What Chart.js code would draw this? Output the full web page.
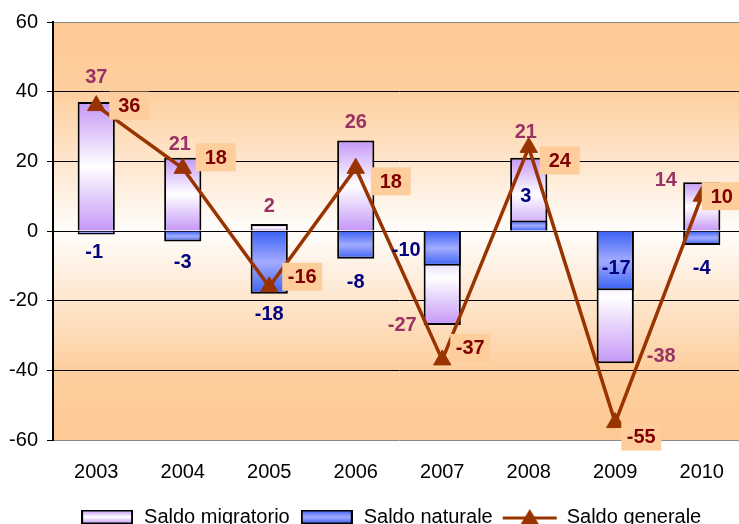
<!DOCTYPE html>
<html>
<head>
<meta charset="utf-8">
<script src="https://cdn.jsdelivr.net/npm/chart.js@4.4.1/dist/chart.umd.min.js"></script>
<style>
  html, body { margin: 0; padding: 0; background: #fff; overflow: hidden; }
  #saldo-chart { display: block; }
</style>
</head>
<body>
<canvas id="saldo-chart" width="745" height="537"></canvas>
<script>
const years = ['2003', '2004', '2005', '2006', '2007', '2008', '2009', '2010'];
const saldoMigratorio = [37, 21, 2, 26, -27, 21, -38, 14];
const saldoNaturale = [-1, -3, -18, -8, -10, 3, -17, -4];
const saldoGenerale = [36, 18, -16, 18, -37, 24, -55, 10];
const yTicks = [-60, -40, -20, 0, 20, 40, 60];

// label nudges (px) relative to bar end / point, as placed by hand in the original
const migratorioLabelOffsets = [[0, -26], [-3, -14], [0, -19], [0, -19], [-40, -1], [-3, -26], [46, -8], [-36, -3]];
const naturaleLabelOffsets = [[-2, 17], [0, 20], [0, 20], [0, 23], [-36, -16], [-3, -25], [1, -23], [0, 23]];
const generaleLabelOffsets = [[33, 0], [33, -11], [33, -10], [35, 13], [28, -12], [31, 13], [26, 14], [20, 0]];

const fontFamily = "'Liberation Sans', Arial, Helvetica, sans-serif";
const purpleStops = ['#c597f7', '#ffffff', '#c597f7'];
const blueStops = ['#3a62f4', '#a3abff', '#3a62f4'];
const lineBrown = '#993300';

function barGradient(stops) {
  return (context) => {
    const { chart, dataIndex, dataset } = context;
    const { ctx, chartArea, scales } = chart;
    if (!chartArea || !scales.y || dataIndex === undefined) {
      return stops[0];
    }
    const y1 = scales.y.getPixelForValue(dataset.data[dataIndex]);
    const y0 = scales.y.getPixelForValue(0);
    if (Math.abs(y1 - y0) < 1) return stops[0];
    const g = ctx.createLinearGradient(0, Math.min(y0, y1), 0, Math.max(y0, y1));
    g.addColorStop(0, stops[0]);
    g.addColorStop(0.5, stops[1]);
    g.addColorStop(1, stops[2]);
    return g;
  };
}

// legend swatches
function boxSwatch(stops) {
  const c = document.createElement('canvas');
  c.width = 52;
  c.height = 15;
  const x = c.getContext('2d');
  const g = x.createLinearGradient(0, 1, 0, 14);
  g.addColorStop(0, stops[0]);
  g.addColorStop(0.5, stops[1]);
  g.addColorStop(1, stops[2]);
  x.fillStyle = g;
  x.fillRect(1, 1, 50, 13);
  x.strokeStyle = '#000';
  x.lineWidth = 2;
  x.strokeRect(1, 1, 50, 13);
  return c;
}

function lineSwatch() {
  const c = document.createElement('canvas');
  c.width = 56;
  c.height = 18;
  const x = c.getContext('2d');
  x.strokeStyle = lineBrown;
  x.lineWidth = 3;
  x.beginPath();
  x.moveTo(1, 10);
  x.lineTo(55, 10);
  x.stroke();
  x.fillStyle = lineBrown;
  x.beginPath();
  x.moveTo(28, 1);
  x.lineTo(37, 16);
  x.lineTo(19, 16);
  x.closePath();
  x.fill();
  return c;
}

const swatches = [boxSwatch(purpleStops), boxSwatch(blueStops), lineSwatch()];

const plotBackground = {
  id: 'plotBackground',
  beforeDraw(chart) {
    const { ctx, chartArea } = chart;
    if (!chartArea) return;
    const g = ctx.createLinearGradient(0, chartArea.top, 0, chartArea.bottom);
    g.addColorStop(0, '#fdc994');
    g.addColorStop(0.17, '#fdcf9f');
    g.addColorStop(0.5, '#fffdfb');
    g.addColorStop(0.83, '#fdcf9f');
    g.addColorStop(1, '#fdc994');
    ctx.save();
    ctx.fillStyle = g;
    ctx.fillRect(chartArea.left, chartArea.top, chartArea.right - chartArea.left, chartArea.bottom - chartArea.top);
    ctx.restore();
  },
};

const valueLabels = {
  id: 'valueLabels',
  afterDatasetsDraw(chart) {
    const { ctx } = chart;
    chart.data.datasets.forEach((ds, di) => {
      const meta = chart.getDatasetMeta(di);
      meta.data.forEach((el, i) => {
        const off = ds.labelOffsets[i];
        const x = el.x + off[0];
        const y = el.y + off[1];
        ctx.save();
        ctx.font = `bold 20px ${fontFamily}`;
        ctx.textAlign = 'center';
        ctx.textBaseline = 'middle';
        if (ds.labelBox) {
          ctx.fillStyle = ds.labelBox;
          ctx.fillRect(x - 20, y - 14, 40, 28);
        }
        ctx.fillStyle = ds.labelColor;
        ctx.fillText(String(ds.data[i]), x, y + 1);
        ctx.restore();
      });
    });
  },
};

const data = {
  labels: years,
  datasets: [
    {
      type: 'line',
      label: 'Saldo generale',
      data: saldoGenerale,
      borderColor: lineBrown,
      backgroundColor: lineBrown,
      borderWidth: 3.5,
      pointStyle: 'triangle',
      pointRadius: 10,
      pointBorderWidth: 1,
      tension: 0,
      order: 0,
      labelOffsets: generaleLabelOffsets,
      labelColor: '#800000',
      labelBox: '#fdcd9b',
    },
    {
      type: 'bar',
      label: 'Saldo naturale',
      data: saldoNaturale,
      backgroundColor: barGradient(blueStops),
      borderColor: '#000',
      borderWidth: 2,
      order: 1,
      labelOffsets: naturaleLabelOffsets,
      labelColor: '#000080',
    },
    {
      type: 'bar',
      label: 'Saldo migratorio',
      data: saldoMigratorio,
      backgroundColor: barGradient(purpleStops),
      borderColor: '#000',
      borderWidth: 2,
      order: 2,
      labelOffsets: migratorioLabelOffsets,
      labelColor: '#993366',
    },
  ],
};

const legendOrder = ['Saldo migratorio', 'Saldo naturale', 'Saldo generale'];

const config = {
  type: 'bar',
  data,
  options: {
    animation: false,
    responsive: false,
    devicePixelRatio: 1,
    // no extra room for point overflow: plot runs to the edge like the original
    layout: { autoPadding: false, padding: { top: 22, left: 0, right: 0, bottom: 0 } },
    datasets: {
      bar: { barPercentage: 0.43, categoryPercentage: 1 },
    },
    plugins: {
      tooltip: { enabled: false },
      legend: {
        display: true,
        position: 'bottom',
        fullSize: false,
        labels: {
          usePointStyle: true,
          pointStyleWidth: 54,
          boxHeight: 16,
          padding: 10,
          color: '#000',
          font: { size: 20, family: fontFamily },
          generateLabels: (chart) => {
            const base = Chart.defaults.plugins.legend.labels.generateLabels(chart);
            return legendOrder.map((name, k) => {
              const item = base.find((b) => b.text === name);
              // trailing spaces on the last entry nudge the centred group left, as in the original
              const text = k === legendOrder.length - 1 ? `${name}   ` : name;
              return { ...item, text, pointStyle: swatches[k], fontColor: '#000', lineWidth: 0 };
            });
          },
        },
      },
    },
    scales: {
      x: {
        stacked: true,
        grid: { display: false, drawTicks: false },
        border: { display: false },
        ticks: {
          padding: 20,
          color: '#000',
          maxRotation: 0,
          font: { size: 20, family: fontFamily },
        },
        afterFit: (scale) => {
          scale.height = 57;
          scale.paddingLeft = 0;
          scale.paddingRight = 0;
        },
      },
      y: {
        stacked: false,
        min: -60,
        max: 60,
        afterBuildTicks: (scale) => { scale.ticks = yTicks.map((v) => ({ value: v })); },
        grid: {
          color: (ctx) => (ctx.tick && Math.abs(ctx.tick.value) === 60 ? '#888888' : '#000000'),
          lineWidth: 1,
          tickColor: '#000',
          tickLength: 6,
        },
        border: { display: true, color: '#000', width: 2 },
        ticks: {
          padding: 9,
          color: '#000',
          font: { size: 20, family: fontFamily },
        },
        afterFit: (scale) => { scale.width = 53; },
      },
    },
  },
  plugins: [plotBackground, valueLabels],
};

const saldoChart = new Chart(document.getElementById('saldo-chart'), config);
</script>
</body>
</html>
